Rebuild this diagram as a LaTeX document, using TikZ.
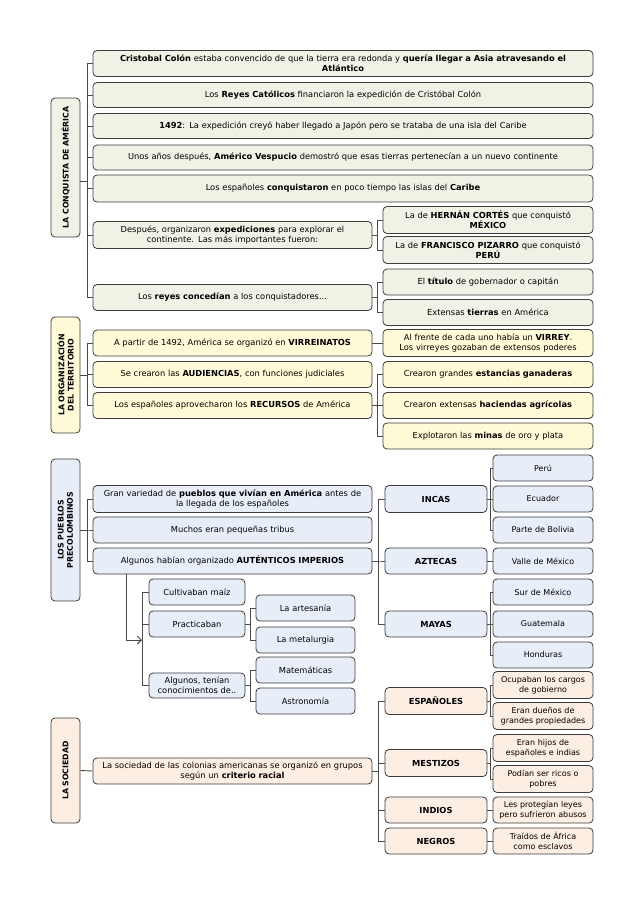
\documentclass[tikz,border=0pt]{standalone}
\usepackage{fontspec}
\setmainfont{DejaVu Sans}
\usetikzlibrary{arrows.meta}
\definecolor{conq}{HTML}{EEF3E6}
\definecolor{terr}{HTML}{FFFBD6}
\definecolor{pueb}{HTML}{E8EEF8}
\definecolor{soci}{HTML}{FCEEE2}
\definecolor{edge}{HTML}{3C3C3C}
\definecolor{wire}{HTML}{4A4A4A}
\tikzset{
  box/.style={draw=edge, line width=0.8pt, rounded corners=4pt, align=center,
    inner sep=1.5pt, minimum height=26pt, font=\fontsize{8.3}{10.1}\selectfont},
  wide/.style={box, minimum width=500pt, text width=494pt},
  half/.style={box, minimum width=279pt, text width=273pt},
  side/.style={box, minimum width=210pt, text width=205pt},
  tribe/.style={box, minimum width=102pt, text width=97pt},
  leaf/.style={box, minimum width=100pt, text width=99pt, inner xsep=0.5pt, font=\fontsize{8}{9.8}\selectfont},
  sub/.style={box, minimum width=96pt, text width=92pt},
  subleaf/.style={box, minimum width=99pt, text width=94pt},
  theme/.style={box, rotate=90, minimum height=29pt, font=\bfseries\fontsize{7.8}{9.2}\selectfont},
  link/.style={draw=wire, line width=0.9pt}
}
\begin{document}
\begin{tikzpicture}[x=1pt, y=-1pt]
\useasboundingbox (0,0) rectangle (638,903);

\begin{scope}[every node/.append style={fill=conq}]
\node[theme, minimum width=139pt] (lab1) at (65.5,167.5) {LA CONQUISTA DE AMÉRICA};
\node[wide] (c1) at (343,63.5) {\textbf{Cristobal Colón} estaba convencido de que la tierra era redonda y \textbf{quería llegar a Asia atravesando el}\\\textbf{Atlántico}};
\node[wide, minimum height=25pt] (c2) at (343,95) {Los \textbf{Reyes Católicos} financiaron la expedición de Cristóbal Colón};
\node[wide, minimum height=25pt] (c3) at (343,126) {\textbf{1492}: La expedición creyó haber llegado a Japón pero se trataba de una isla del Caribe};
\node[wide, minimum height=25pt] (c4) at (343,157.5) {Unos años después, \textbf{Américo Vespucio} demostró que esas tierras pertenecían a un nuevo continente};
\node[wide, minimum height=27pt] (c5) at (343,188.5) {Los españoles \textbf{conquistaron} en poco tiempo las islas del \textbf{Caribe}};
\node[half, minimum height=27pt] (c6) at (232.5,235) {Después, organizaron \textbf{expediciones} para explorar el\\continente. Las más importantes fueron:};
\node[side, minimum height=27pt] (c6a) at (488,220) {La de \textbf{HERNÁN CORTÉS} que conquistó\\\textbf{MÉXICO}};
\node[side, minimum height=27pt] (c6b) at (488,250) {La de \textbf{FRANCISCO PIZARRO} que conquistó\\\textbf{PERÚ}};
\node[half] (c7) at (232.5,297.5) {Los \textbf{reyes concedían} a los conquistadores...};
\node[side] (c7a) at (488,282) {El \textbf{título} de gobernador o capitán};
\node[side] (c7b) at (488,312.5) {Extensas \textbf{tierras} en América};
\end{scope}
\foreach \k in {c1,c2,c3,c4,c5,c6,c7}
  \draw[link] ([yshift=-13.5pt]lab1.south) -- ++(7,0) |- (\k.west);
\foreach \k in {c6a,c6b}
  \draw[link] (c6.east) -- ++(5,0) |- (\k.west);
\foreach \k in {c7a,c7b}
  \draw[link] (c7.east) -- ++(5,0) |- (\k.west);

\begin{scope}[every node/.append style={fill=terr}]
\node[theme, minimum width=116pt] (lab2) at (65.5,375) {LA ORGANIZACIÓN\\DEL TERRITORIO};
\node[half] (o1) at (232.5,343) {A partir de 1492, América se organizó en \textbf{VIRREINATOS}};
\node[side, minimum height=27pt] (o1a) at (488,343) {Al frente de cada uno había un \textbf{VIRREY}.\\Los virreyes gozaban de extensos poderes};
\node[half] (o2) at (232.5,374.5) {Se crearon las \textbf{AUDIENCIAS}, con funciones judiciales};
\node[half] (o3) at (232.5,405.5) {Los españoles aprovecharon los \textbf{RECURSOS} de América};
\node[side] (o3a) at (488,374.5) {Crearon grandes \textbf{estancias ganaderas}};
\node[side] (o3b) at (488,405.5) {Crearon extensas \textbf{haciendas agrícolas}};
\node[side] (o3c) at (488,436) {Explotaron las \textbf{minas} de oro y plata};
\end{scope}
\foreach \k in {o1,o2,o3}
  \draw[link] (lab2.south) -- ++(7,0) |- (\k.west);
\draw[link] (o1.east) -- (o1a.west);
\foreach \k in {o3a,o3b,o3c}
  \draw[link] (o3.east) -- ++(5,0) |- (\k.west);

\begin{scope}[every node/.append style={fill=pueb}]
\node[theme, minimum width=142pt] (lab3) at (65.5,530) {LOS PUEBLOS\\PRECOLOMBINOS};
\node[half, minimum height=27pt] (p1) at (232.5,499) {Gran variedad de \textbf{pueblos que vivían en América} antes de\\la llegada de los españoles};
\node[half] (p2) at (232.5,530) {Muchos eran pequeñas tribus};
\node[half] (p3) at (232.5,561) {Algunos habían organizado \textbf{AUTÉNTICOS IMPERIOS}};
\node[tribe, minimum height=27pt] (inc) at (436,499) {\textbf{INCAS}};
\node[tribe] (azt) at (436,561) {\textbf{AZTECAS}};
\node[tribe] (may) at (436,624) {\textbf{MAYAS}};
\node[leaf] (peru) at (543,468) {Perú};
\node[leaf] (ecua) at (543,499) {Ecuador};
\node[leaf] (boli) at (543,530) {Parte de Bolivia};
\node[leaf] (valle) at (543,561) {Valle de México};
\node[leaf] (sur) at (543,592) {Sur de México};
\node[leaf] (guate) at (543,624) {Guatemala};
\node[leaf] (hond) at (543,655) {Honduras};
\node[sub] (cult) at (197,592) {Cultivaban maíz};
\node[sub] (prac) at (197,624) {Practicaban};
\node[sub, minimum height=25pt] (algt) at (197,685.5) {Algunos, tenían\\conocimientos de..};
\node[subleaf] (arte) at (305.5,608) {La artesanía};
\node[subleaf] (meta) at (305.5,640) {La metalurgia};
\node[subleaf] (mate) at (305.5,670) {Matemáticas};
\node[subleaf] (astro) at (305.5,701) {Astronomía};
\end{scope}
\foreach \k in {p1,p2,p3}
  \draw[link] (lab3.south) -- ++(7,0) |- (\k.west);
\foreach \k in {inc,azt,may}
  \draw[link] (p3.east) -- ++(6,0) |- (\k.west);
\foreach \k in {peru,ecua,boli}
  \draw[link] (inc.east) -- ++(3,0) |- (\k.west);
\draw[link] (azt.east) -- (valle.west);
\foreach \k in {sur,guate,hond}
  \draw[link] (may.east) -- ++(3,0) |- (\k.west);
\coordinate (fork) at (142,640);
\draw[link, -{Straight Barb[length=4pt,width=8pt]}] ([xshift=34pt]p3.south west) |- (fork);
\foreach \k in {cult,prac,algt}
  \draw[link] (fork) |- (\k.west);
\foreach \k in {arte,meta}
  \draw[link] (prac.east) -- ++(5.5,0) |- (\k.west);
\foreach \k in {mate,astro}
  \draw[link] (algt.east) -- ++(5.5,0) |- (\k.west);

\begin{scope}[every node/.append style={fill=soci}]
\node[theme, minimum width=105pt] (lab4) at (65.5,770.5) {LA SOCIEDAD};
\node[half] (s1) at (232.5,771) {La sociedad de las colonias americanas se organizó en grupos\\según un \textbf{criterio racial}};
\node[tribe, minimum height=27pt] (esp) at (436,701) {\textbf{ESPAÑOLES}};
\node[tribe, minimum height=27pt] (mes) at (436,763) {\textbf{MESTIZOS}};
\node[tribe] (ind) at (436,810) {\textbf{INDIOS}};
\node[tribe] (neg) at (436,841) {\textbf{NEGROS}};
\node[leaf, minimum height=27pt] (ocup) at (543,685) {Ocupaban los cargos\\de gobierno};
\node[leaf, minimum height=27pt] (duen) at (543,716) {Eran dueños de\\grandes propiedades};
\node[leaf, minimum height=27pt] (hijos) at (543,748) {Eran hijos de\\españoles e indias};
\node[leaf, minimum height=27pt] (ricos) at (543,779) {Podían ser ricos o\\pobres};
\node[leaf] (leyes) at (543,810) {Les protegían leyes\\pero sufrieron abusos};
\node[leaf] (traid) at (543,841) {Traídos de África\\como esclavos};
\end{scope}
\draw[link] (lab4.south) -- (s1.west);
\foreach \k in {esp,mes,ind,neg}
  \draw[link] (s1.east) -- ++(6,0) |- (\k.west);
\foreach \k in {ocup,duen}
  \draw[link] (esp.east) -- ++(3,0) |- (\k.west);
\foreach \k in {hijos,ricos}
  \draw[link] (mes.east) -- ++(3,0) |- (\k.west);
\draw[link] (ind.east) -- (leyes.west);
\draw[link] (neg.east) -- (traid.west);
\end{tikzpicture}
\end{document}
